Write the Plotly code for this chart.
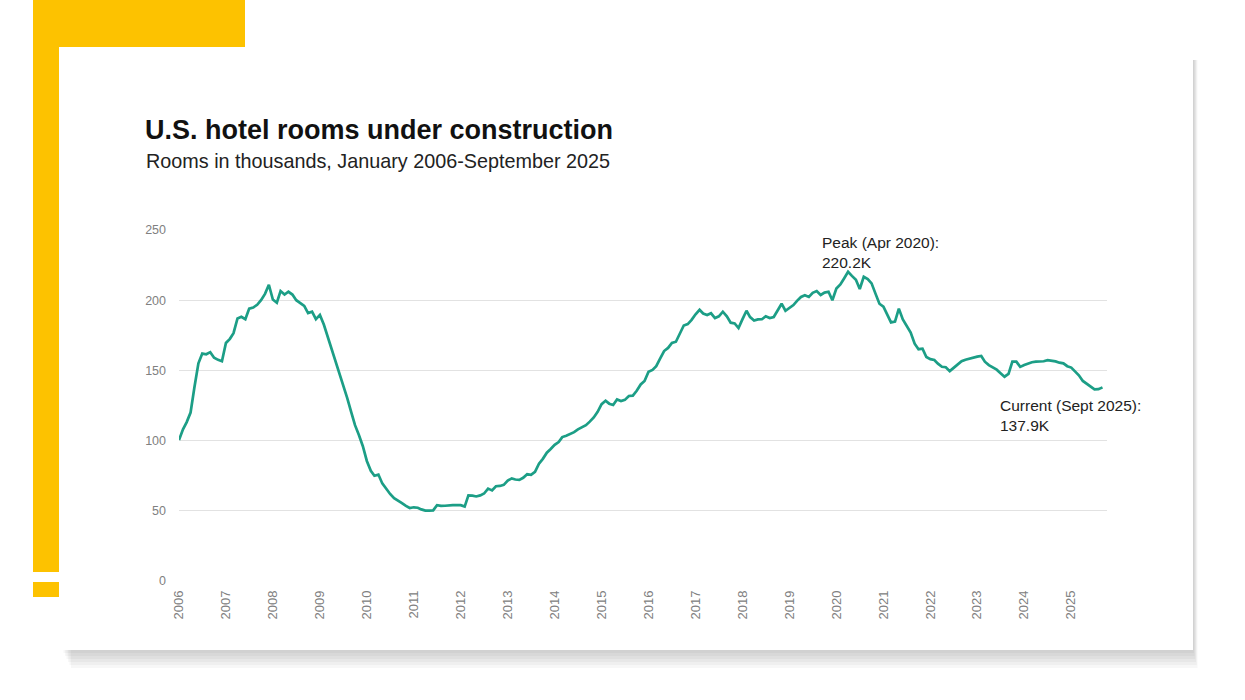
import pandas as pd
import plotly.graph_objects as go

# Monthly rooms under construction (thousands), Jan 2006 - Sep 2025
v2006 = [100.4, 108, 113, 120, 138, 155, 162, 161.5, 163, 159, 157.5, 156.5]
v2007 = [169.5, 172.5, 176.5, 187, 188.2, 186.5, 194, 194.8, 196.7, 200, 204.5, 211]
v2008 = [200.5, 198.2, 206.5, 204, 206, 204, 200, 197.8, 196, 190.8, 191.8, 186.5]
v2009 = [189.5, 182.5, 174.5, 167, 158.5, 148, 141, 130.5, 120.5, 111, 103.8, 96]
v2010 = [85.5, 78.5, 75, 75.8, 69.5, 65.3, 62, 59, 57.5, 55.5, 53.5, 52]
v2011 = [52.5, 52.2, 51, 50.1, 50.1, 50.3, 54, 53.5, 53.6, 54.1, 54.1, 54.1]
v2012 = [54, 53, 61, 60.8, 60.2, 61, 62.3, 65.8, 64.5, 67.5, 67.7, 68.5]
v2013 = [71.5, 73.1, 72.3, 72, 73.5, 76, 75.6, 77.8, 83.5, 87, 91.4, 94]
v2014 = [97, 99, 102.5, 103.5, 104.8, 106, 108, 109.5, 111, 113.5, 116.5, 120.5]
v2015 = [126, 128.4, 126.3, 125.4, 129.3, 128.2, 129, 131.8, 132, 135.5, 140, 142.5]
v2016 = [149, 150.3, 153, 158.5, 163.8, 166, 169.5, 170.4, 176.9, 182, 183, 186]
v2017 = [190, 193.2, 190.5, 189.5, 190.7, 187.3, 188.5, 191.8, 188.5, 184, 183.5, 180.2]
v2018 = [186.5, 192.5, 188, 185.5, 186.3, 186.4, 188.6, 187.3, 188, 193, 197.5, 192.5]
v2019 = [194.7, 196.5, 199.5, 202.3, 203.5, 202.3, 205.3, 206.5, 203.7, 205.4, 206, 200]
v2020 = [208.3, 211.2, 215.5, 220.2, 217.3, 214.5, 208, 216.7, 215, 212, 204.5, 197.5]
v2021 = [195.4, 190, 184.2, 184.8, 194, 186.3, 182, 177, 169, 165.1, 165.5, 159.5]
v2022 = [158, 157.4, 154.8, 152.6, 152.3, 149.5, 151.8, 154.5, 156.5, 157.6, 158.5, 159.2]
v2023 = [159.8, 160.3, 156.2, 153.8, 152, 150.5, 148, 145.5, 147.5, 156.2, 156.2, 152.5]
v2024 = [153.8, 155, 155.8, 156.2, 156.2, 156.5, 157.3, 157, 156.4, 155.5, 155, 153]
v2025 = [152, 149.1, 146.5, 142.5, 140.5, 139, 136.5, 136.6, 137.9]

values = (v2006 + v2007 + v2008 + v2009 + v2010 + v2011 + v2012 + v2013 + v2014 +
          v2015 + v2016 + v2017 + v2018 + v2019 + v2020 + v2021 + v2022 + v2023 +
          v2024 + v2025)
dates = pd.date_range("2006-01-01", periods=len(values), freq="MS")

year_ticks = [f"{y}-01-01" for y in range(2006, 2026)]
year_labels = [str(y) for y in range(2006, 2026)]
y_ticks = [0, 50, 100, 150, 200, 250]

title_text = "U.S. hotel rooms under construction"
subtitle_text = "Rooms in thousands, January 2006-September 2025"
peak_text = "Peak (Apr 2020):<br>220.2K"
current_text = "Current (Sept 2025):<br>137.9K"

W, H = 1245, 700
L, R, T, B = 179, 1107, 230, 581


def px(x):
    return (x - L) / (R - L)


def py(y):
    return (B - y) / (B - T)


fig = go.Figure()
fig.add_trace(go.Scatter(
    x=dates, y=values, mode="lines",
    line=dict(color="#1c9e86", width=2.7),
    hoverinfo="x+y", showlegend=False,
))

shapes = []
yellow = "#FDC200"
# yellow L decoration
shapes.append(dict(type="rect", xref="paper", yref="paper", layer="below",
                   x0=px(33), x1=px(245), y0=py(47), y1=py(0),
                   fillcolor=yellow, line=dict(width=0)))
shapes.append(dict(type="rect", xref="paper", yref="paper", layer="below",
                   x0=px(33), x1=px(59), y0=py(597), y1=py(0),
                   fillcolor=yellow, line=dict(width=0)))
shapes.append(dict(type="rect", xref="paper", yref="paper", layer="below",
                   x0=px(33), x1=px(59), y0=py(582), y1=py(572),
                   fillcolor="white", line=dict(width=0)))
# soft card shadow
for d in [18, 15, 12, 9, 6, 3]:
    shapes.append(dict(type="rect", xref="paper", yref="paper", layer="below",
                       x0=px(62 + d * 0.5), x1=px(1193 + d / 4), y0=py(650 + d), y1=py(60),
                       fillcolor="rgba(0,0,0,0.03)", line=dict(width=0)))
# card
shapes.append(dict(type="rect", xref="paper", yref="paper", layer="below",
                   x0=px(59), x1=px(1193), y0=py(650), y1=py(47),
                   fillcolor="white", line=dict(width=0)))

annotations = [
    dict(text=f"<b>{title_text}</b>", xref="paper", yref="paper",
         x=px(143), y=py(130), xanchor="left", yanchor="middle", showarrow=False,
         font=dict(family="Liberation Sans, Arial", size=27, color="#111111")),
    dict(text=subtitle_text, xref="paper", yref="paper",
         x=px(144), y=py(161), xanchor="left", yanchor="middle", showarrow=False,
         font=dict(family="Liberation Sans, Arial", size=19.8, color="#222222")),
    dict(text=peak_text, xref="paper", yref="paper",
         x=px(820), y=py(232), xanchor="left", yanchor="top", showarrow=False,
         align="left",
         font=dict(family="Liberation Sans, Arial", size=15.5, color="#222222")),
    dict(text=current_text, xref="paper", yref="paper",
         x=px(998), y=py(395), xanchor="left", yanchor="top", showarrow=False,
         align="left",
         font=dict(family="Liberation Sans, Arial", size=15.5, color="#222222")),
]

fig.update_layout(
    width=W, height=H,
    margin=dict(l=L, r=W - R, t=T, b=H - B, pad=0),
    paper_bgcolor="white", plot_bgcolor="rgba(0,0,0,0)",
    shapes=shapes, annotations=annotations,
    font=dict(family="Liberation Sans, Arial"),
)
fig.update_xaxes(
    range=["2006-01-01", "2025-10-06"],
    tickvals=year_ticks, ticktext=year_labels, tickangle=-90,
    showgrid=False, zeroline=False, showline=False, ticks="",
    tickfont=dict(size=13, color="#808080"), ticklabelstandoff=6,
)
fig.update_yaxes(
    range=[0, 250], tickvals=y_ticks, showgrid=True, gridcolor="#e2e2e2",
    gridwidth=1, zeroline=False, showline=False, ticks="",
    tickfont=dict(size=12.5, color="#808080"), ticklabelstandoff=12,
)

fig.write_html("out.html", config={"displayModeBar": False},
               post_script="document.body.style.margin='0';document.body.style.padding='0';")
